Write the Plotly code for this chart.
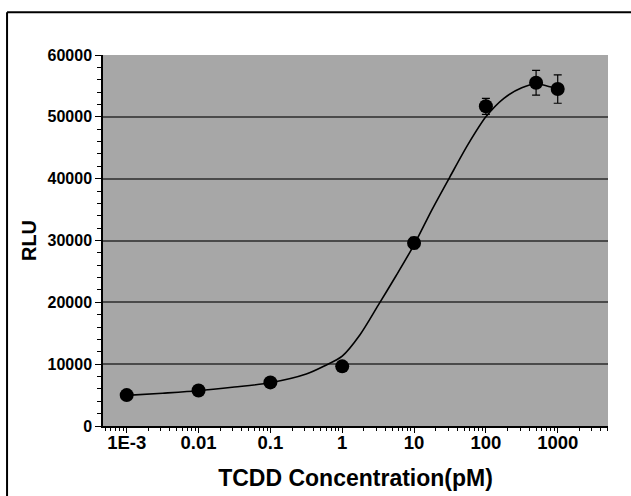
import plotly.graph_objects as go

# Measured data (TCDD concentration in pM, RLU)
conc = [0.001, 0.01, 0.1, 1, 10, 100, 500, 1000]
rlu = [5000, 5750, 7050, 9650, 29600, 51700, 55500, 54500]
rlu_err = [0, 0, 0, 0, 900, 1300, 2000, 2300]

# Fitted curve
curve_conc = [0.001, 0.00316, 0.01, 0.0316, 0.1, 0.316, 0.562, 1, 1.78, 3.16, 5.62,
              10, 17.8, 31.6, 56.2, 100, 178, 316, 501, 708, 1000]
curve_rlu = [4950, 5300, 5700, 6300, 7000, 8400, 9700, 11300, 14800, 19500, 24300,
             29300, 35000, 40300, 45500, 50000, 53000, 54700, 55300, 55000, 54500]

y_ticks = [0, 10000, 20000, 30000, 40000, 50000, 60000]
y_ticktext = ["0", "10000", "20000", "30000", "40000", "50000", "60000"]
x_tickvals = [0.001, 0.01, 0.1, 1, 10, 100, 1000]
x_ticktext = ["1E-3", "0.01", "0.1", "1", "10", "100", "1000"]

font_family = "Liberation Sans, Arial, sans-serif"

fig = go.Figure()
fig.add_trace(go.Scatter(
    x=curve_conc, y=curve_rlu, mode="lines",
    line=dict(color="black", width=1.6, shape="spline", smoothing=0.8),
    hoverinfo="skip", showlegend=False))
fig.add_trace(go.Scatter(
    x=conc, y=rlu, mode="markers",
    marker=dict(color="black", size=14),
    error_y=dict(type="data", array=rlu_err, color="black", thickness=1.2, width=4),
    showlegend=False))

fig.update_layout(
    width=631, height=496,
    margin=dict(l=103, r=23, t=55, b=70, autoexpand=False),
    paper_bgcolor="white", plot_bgcolor="#a7a7a7",
    font=dict(family=font_family, color="black"),
    shapes=[
        dict(type="line", xref="paper", yref="paper", x0=-0.19, x1=1.05, y0=1.115, y1=1.115,
             line=dict(color="black", width=2)),
        dict(type="line", xref="paper", yref="paper", x0=-0.19, x1=-0.19, y0=1.115, y1=-0.2,
             line=dict(color="black", width=2)),
    ],
)
fig.update_xaxes(
    type="log", range=[-3.33, 3.70], automargin=False,
    tickvals=x_tickvals, ticktext=x_ticktext,
    tickfont=dict(size=18.5, family=font_family, weight="bold"),
    ticks="outside", ticklen=5, tickcolor="black", tickwidth=1,
    ticklabelstandoff=-6,
    minor=dict(ticks="outside", ticklen=3, tickcolor="black", dtick="D1", showgrid=False),
    showline=True, linecolor="black", linewidth=1.5,
    showgrid=False, zeroline=False,
    title=dict(text="TCDD Concentration(pM)", font=dict(size=23, family=font_family, weight="bold"), standoff=18),
)
fig.update_yaxes(
    range=[0, 60000], tickvals=y_ticks, ticktext=y_ticktext, automargin=False,
    tickfont=dict(size=16, family=font_family, weight="bold"),
    ticks="outside", ticklen=6, tickcolor="black", tickwidth=1,
    minor=dict(ticks="outside", ticklen=4, tickcolor="black", dtick=2000, showgrid=False),
    showline=True, linecolor="black", linewidth=1.5,
    showgrid=True, gridcolor="#4a4a4a", gridwidth=1.5, zeroline=False,
    title=dict(text="RLU", font=dict(size=20, family=font_family, weight="bold"), standoff=6),
)

fig.write_html("out.html", config={"displayModeBar": False},
               post_script="document.body.style.margin='0';document.body.style.overflow='hidden';")
